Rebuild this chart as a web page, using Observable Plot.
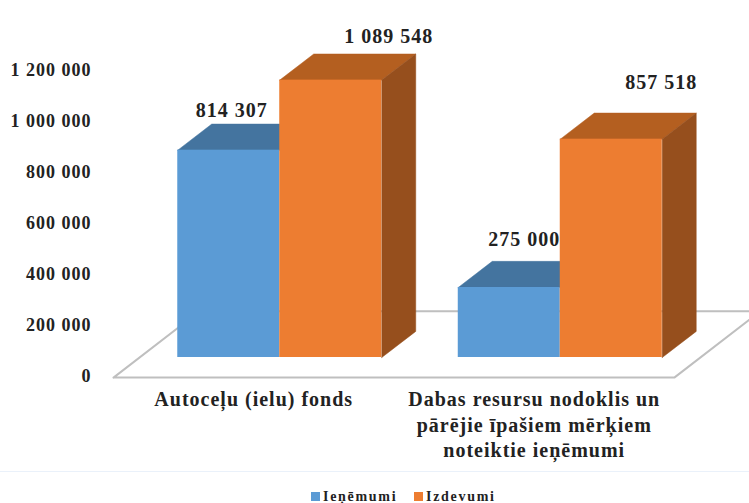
<!DOCTYPE html>
<html><head><meta charset="utf-8">
<script src="https://cdn.jsdelivr.net/npm/d3@7"></script>
<script src="https://cdn.jsdelivr.net/npm/@observablehq/plot@0.6"></script>
<style>
html,body{margin:0;padding:0;background:#fff;overflow:hidden;width:749px;height:503px}
#legend{position:absolute;left:0;top:471px;width:749px;height:32px;border-top:1.5px solid #eaf1fa;box-sizing:border-box;
font:bold 14px "Liberation Serif",serif;letter-spacing:1.7px;color:#222}
#legend span{position:absolute;top:17px;line-height:16px}
#legend i{position:absolute;top:20px;width:9px;height:9px}
</style></head><body>
<div id="chart"></div>
<div id="legend">
<i style="left:311px;background:#5B9BD5"></i><span style="left:323px">Ieņēmumi</span>
<i style="left:414px;background:#ED7D31"></i><span style="left:426px">Izdevumi</span>
</div>
<script>
const categories = ["Autoceļu (ielu) fonds", "Dabas resursu nodoklis un\npārējie īpašiem mērķiem\nnoteiktie ieņēmumi"];
const revenue = [814307, 275000];
const spending = [1089548, 857518];
const revenueLabels = ["814 307", "275 000"];
const spendingLabels = ["1 089 548", "857 518"];
const tickValues = [0, 200000, 400000, 600000, 800000, 1000000, 1200000];
const tickLabels = ["0", "200 000", "400 000", "600 000", "800 000", "1 000 000", "1 200 000"];

// 3-D extrusion, in scale units
const barW = 0.3636, depthX = 0.1212, depthY = 102600;
const floorL = -0.5927, floorR = 1.4066, floorFront = -79000, floorDepthX = 0.3066, floorBack = 181600;
const colors = {blue:"#5B9BD5", blueTop:"#44749F", orange:"#ED7D31", orangeTop:"#B45F20", orangeSide:"#964F1D"};

const poly = (pts, fill) => Plot.line(pts.map(([x,y]) => ({x,y})), {x:"x", y:"y", fill, stroke:fill, strokeWidth:0.5});
const topFace = (x0, v, fill) => poly([[x0,v],[x0+barW,v],[x0+barW+depthX,v+depthY],[x0+depthX,v+depthY],[x0,v]], fill);
const sideFace = (x0, v, fill) => poly([[x0+barW,0],[x0+barW+depthX,depthY],[x0+barW+depthX,v+depthY],[x0+barW,v],[x0+barW,0]], fill);
const frontFace = (x0, v, fill) => Plot.rect([{x1:x0,x2:x0+barW,y1:0,y2:v}], {x1:"x1",x2:"x2",y1:"y1",y2:"y2",fill});

const floorMark = Plot.line(
  [[floorL,floorFront],[floorR,floorFront],[floorR+floorDepthX,floorBack],[floorL+floorDepthX,floorBack],[floorL,floorFront]].map(([x,y])=>({x,y})),
  {x:"x",y:"y",stroke:"#BFBFBF",strokeWidth:2});

const bars = categories.flatMap((c,i) => [
  topFace(i-barW, revenue[i], colors.blueTop),
  frontFace(i-barW, revenue[i], colors.blue),
  topFace(i, spending[i], colors.orangeTop),
  sideFace(i, spending[i], colors.orangeSide),
  frontFace(i, spending[i], colors.orange)
]);

const valueLabel = (x, y, text, dx, dy) => Plot.text([text], {x:()=>x, y:()=>y, text:d=>d, dx, dy, fontSize:20, fill:"#222"});

const chart = Plot.plot({
  width:749, height:471,
  marginLeft:91, marginTop:0, marginRight:0, marginBottom:0,
  x:{type:"linear", domain:[-0.5,1.5], range:[139,700], axis:null},
  y:{type:"linear", domain:[0,1200000], range:[357,51.5], axis:null},
  style:{fontFamily:"'Liberation Serif',serif", fontSize:"18px", fontWeight:"bold", letterSpacing:"1px", color:"#222", overflow:"hidden"},
  marks:[
    floorMark,
    ...bars,
    Plot.axisY({ticks:tickValues, tickFormat:d=>tickLabels[tickValues.indexOf(d)], tickSize:0, tickPadding:0, label:null, anchor:"left", dy:18.5, fill:"#222"}),
    valueLabel(0-barW/2, revenue[0], revenueLabels[0], 3, -40),
    valueLabel(barW/2, spending[0], spendingLabels[0], 58, -43.6),
    valueLabel(1-barW/2, revenue[1], revenueLabels[1], 15, -48),
    valueLabel(1+barW/2, spending[1], spendingLabels[1], 50, -56.7),
    Plot.text(categories, {x:(d,i)=>i, y:()=>0, text:d=>d, dx:-26, dy:30.6, lineAnchor:"top", lineHeight:1.275, fontSize:20, letterSpacing:"0.9px", textAnchor:"middle", fill:"#222"})
  ]
});
document.getElementById("chart").appendChild(chart);
</script>
</body></html>
